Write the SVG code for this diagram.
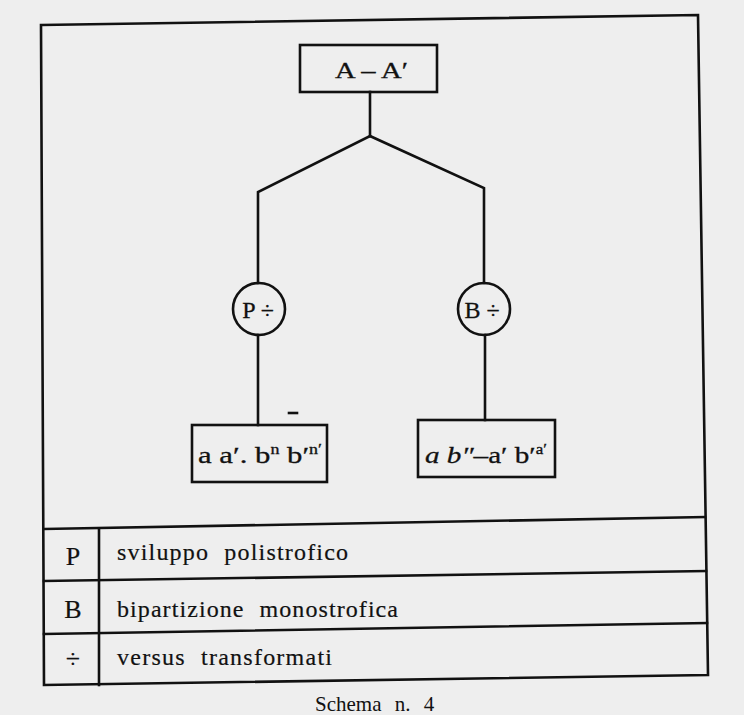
<svg xmlns="http://www.w3.org/2000/svg" width="744" height="715" viewBox="0 0 744 715">
<style>
.ln{fill:none;stroke:#111;stroke-width:2.6;stroke-linecap:square;stroke-linejoin:miter}
.bx{fill:none;stroke:#111;stroke-width:2.6}
.t{font-family:"Liberation Serif","DejaVu Serif",serif;fill:#111}
.lg{font-size:24px;word-spacing:8px;stroke:#111;stroke-width:0.2}
.lt{font-size:26px;stroke:#111;stroke-width:0.2}
.nd{font-size:24px;stroke:#111;stroke-width:0.3}
</style>
<rect x="0" y="0" width="744" height="715" fill="#eeeeee"/>
<g id="frame">
<path class="ln" d="M41,25 L698,15 L708,675 L44,685 Z"/>
</g>
<g id="connectors">
<path class="ln" d="M370,92 L370,136"/>
<path class="ln" d="M370,136 L258,192 L258,283"/>
<path class="ln" d="M370,136 L484,188 L484,283"/>
<path class="ln" d="M258,335 L258,425"/>
<path class="ln" d="M485,335 L485,420"/>
</g>
<g id="node-root">
<rect class="bx" x="300" y="45" width="137" height="47"/>
<text class="t nd" x="335" y="78" font-size="26" textLength="73" lengthAdjust="spacingAndGlyphs">A – A′</text>
</g>
<g id="node-P">
<circle class="bx" cx="259" cy="309" r="26"/>
<text class="t nd" x="258" y="318" font-size="26" text-anchor="middle">P ÷</text>
</g>
<g id="node-B">
<circle class="bx" cx="484" cy="309" r="26"/>
<text class="t nd" x="482" y="318" font-size="26" text-anchor="middle">B ÷</text>
</g>
<g id="node-leaf1">
<rect class="bx" x="192" y="425" width="135" height="57"/>
<text class="t nd" x="198" y="463" textLength="124" lengthAdjust="spacingAndGlyphs">a a′. b<tspan font-size="14" dy="-9">n</tspan><tspan dy="9"> b′</tspan><tspan font-size="14" dy="-9">n′</tspan></text>
<path class="ln" d="M289,413 L297,413" stroke-width="2"/>
</g>
<g id="node-leaf2">
<rect class="bx" x="418" y="420" width="137" height="57"/>
<text class="t nd" x="425" y="463" textLength="122" lengthAdjust="spacingAndGlyphs"><tspan font-style="italic">a b″</tspan>–a′ b′<tspan font-size="14" dy="-9">a′</tspan></text>
</g>
<g id="legend">
<path class="ln" d="M44,529 L705,517"/>
<path class="ln" d="M44,581 L706,571"/>
<path class="ln" d="M44,634 L707,623"/>
<path class="ln" d="M99,529 L99,685"/>
<text class="t lt" x="73" y="565" text-anchor="middle">P</text>
<text class="t lg" x="117" y="560" textLength="231" lengthAdjust="spacing">sviluppo polistrofico</text>
<text class="t lt" x="73" y="618" text-anchor="middle">B</text>
<text class="t lg" x="117" y="617" textLength="281" lengthAdjust="spacing">bipartizione monostrofica</text>
<text class="t lt" x="73" y="668" text-anchor="middle" font-size="30">÷</text>
<text class="t lg" x="117" y="665" textLength="215" lengthAdjust="spacing">versus transformati</text>
</g>
<g id="caption">
<text class="t" x="315" y="711" font-size="21" word-spacing="8">Schema n. 4</text>
</g>
</svg>
